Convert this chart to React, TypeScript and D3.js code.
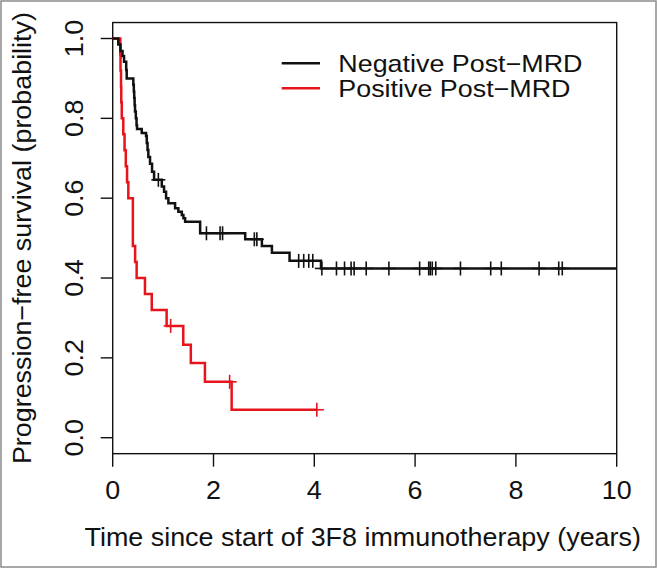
import React from 'react';
import * as d3 from 'd3';

// Negative Post-MRD (black) : event times (years) and survival after each event
const negTimes = [0.111, 0.155, 0.195, 0.225, 0.268, 0.278, 0.409, 0.419, 0.427, 0.435, 0.443, 0.459, 0.473, 0.483, 0.576, 0.662, 0.676, 0.691, 0.707, 0.741, 0.781, 0.821, 0.974, 1.019, 1.059, 1.105, 1.238, 1.303, 1.371, 1.403, 1.437, 1.735, 2.629, 2.96, 3.159, 3.509, 4.133];
const negSurv = [0.985, 0.969, 0.956, 0.942, 0.921, 0.9, 0.884, 0.867, 0.851, 0.833, 0.817, 0.8, 0.783, 0.773, 0.763, 0.756, 0.738, 0.721, 0.703, 0.686, 0.666, 0.646, 0.629, 0.616, 0.6, 0.587, 0.575, 0.566, 0.558, 0.55, 0.541, 0.512, 0.497, 0.48, 0.463, 0.443, 0.424];
const negCensor = [0.906, 1.86, 2.13, 2.18, 2.81, 2.86, 3.69, 3.79, 3.89, 3.97, 4.15, 4.44, 4.6, 4.73, 4.79, 5.03, 5.48, 6.09, 6.27, 6.3, 6.34, 6.41, 6.9, 7.5, 7.71, 8.46, 8.85, 8.92];
const negEnd = 10;

// Positive Post-MRD (red)
const posTimes = [0.15, 0.155, 0.165, 0.17, 0.18, 0.21, 0.235, 0.26, 0.285, 0.31, 0.4, 0.4, 0.4, 0.445, 0.475, 0.64, 0.775, 1.07, 1.4, 1.55, 1.83, 2.36];
const posSurv = [0.96, 0.92, 0.88, 0.84, 0.8, 0.76, 0.72, 0.68, 0.64, 0.6, 0.56, 0.52, 0.48, 0.44, 0.4, 0.36, 0.32, 0.28, 0.233, 0.187, 0.14, 0.07];
const posCensor = [1.15, 2.32, 4.05];
const posEnd = 4.05;

const xTicks = [0, 2, 4, 6, 8, 10];
const yTicks = [0, 0.2, 0.4, 0.6, 0.8, 1.0];
const legendLabels = ['Negative Post\u2212MRD', 'Positive Post\u2212MRD'];
const xTitle = 'Time since start of 3F8 immunotherapy (years)';
const yTitle = 'Progression\u2212free survival (probability)';

const W = 657, H = 568;
const FONT = "'Liberation Sans', Arial, Helvetica, sans-serif";
const FS = 26;
const SX = 1.035;
const RED = '#e8141c';

const x = d3.scaleLinear().domain([0, 10]).range([112.7, 616.7]);
const y = d3.scaleLinear().domain([0, 1]).range([437.7, 38.5]);
const boxTop = y(1.04);
const boxBottom = y(-0.04);

function survAt(times: number[], surv: number[], t: number) {
  let s = 1;
  for (let i = 0; i < times.length; i++) if (times[i] <= t) s = surv[i];
  return s;
}

function stepPath(times: number[], surv: number[], end: number) {
  const pts: [number, number][] = [[0, 1]];
  times.forEach((t, i) => pts.push([t, surv[i]]));
  pts.push([end, surv[surv.length - 1]]);
  const line = d3.line<[number, number]>().x(d => x(d[0])).y(d => y(d[1])).curve(d3.curveStepAfter);
  return line(pts) || '';
}

function Txt({ tx, ty, rot = 0, anchor = 'start', fs = FS, sx = SX, children }: any) {
  return (
    <g transform={`translate(${tx},${ty}) rotate(${rot}) scale(${sx},1)`}>
      <text x={0} y={0} textAnchor={anchor} fontFamily={FONT} fontSize={fs} fill="#111">{children}</text>
    </g>
  );
}

export default function App() {
  const plus = (t: number, s: number, color: string, key: string) => {
    const cx = x(t), cy = y(s);
    return (
      <g key={key} stroke={color} strokeWidth={1.6}>
        <line x1={cx - 7} x2={cx + 7} y1={cy} y2={cy} />
        <line x1={cx} x2={cx} y1={cy - 7} y2={cy + 7} />
      </g>
    );
  };
  return (
    <svg width={W} height={H} style={{ position: 'absolute', left: 0, top: 0, background: '#fff' }}>
      <rect x={0} y={0} width={W} height={H} fill="#fff" />
      <rect x={1} y={1} width={W - 2} height={H - 2} fill="none" stroke="#8c8c8c" strokeWidth={1.5} />
      {/* plot box */}
      <rect x={x(0)} y={boxTop} width={x(10) - x(0)} height={boxBottom - boxTop} fill="none" stroke="#111" strokeWidth={1.4} />
      {/* x axis ticks */}
      {xTicks.map(t => (
        <g key={'xt' + t}>
          <line x1={x(t)} x2={x(t)} y1={boxBottom} y2={boxBottom + 13} stroke="#111" strokeWidth={1.4} />
          <Txt tx={x(t)} ty={498.5} anchor="middle">{String(t)}</Txt>
        </g>
      ))}
      {/* y axis ticks */}
      {yTicks.map(v => (
        <g key={'yt' + v}>
          <line x1={x(0) - 12} x2={x(0)} y1={y(v)} y2={y(v)} stroke="#111" strokeWidth={1.4} />
          <Txt tx={83} ty={y(v)} rot={-90} anchor="middle">{v.toFixed(1)}</Txt>
        </g>
      ))}
      <Txt tx={(x(0) + x(10)) / 2 - 2} ty={546} anchor="middle">{xTitle}</Txt>
      <Txt tx={31} ty={(boxTop + boxBottom) / 2} rot={-90} anchor="middle">{yTitle}</Txt>
      {/* curves */}
      <path d={stepPath(posTimes, posSurv, posEnd)} fill="none" stroke={RED} strokeWidth={2.5} />
      <path d={stepPath(negTimes, negSurv, negEnd)} fill="none" stroke="#111" strokeWidth={2.5} />
      {negCensor.map((t, i) => plus(t, survAt(negTimes, negSurv, t), '#111', 'nc' + i))}
      {posCensor.map((t, i) => plus(t, survAt(posTimes, posSurv, t), RED, 'pc' + i))}
      {/* legend */}
      {legendLabels.map((lab, i) => (
        <g key={lab}>
          <line x1={281.7} x2={320} y1={63.3 + i * 25} y2={63.3 + i * 25} stroke={i === 0 ? '#111' : RED} strokeWidth={2.5} />
          <Txt tx={338.3} ty={63.3 + i * 25 + 8.5} fs={24} sx={1.12}>{lab}</Txt>
        </g>
      ))}
    </svg>
  );
}
